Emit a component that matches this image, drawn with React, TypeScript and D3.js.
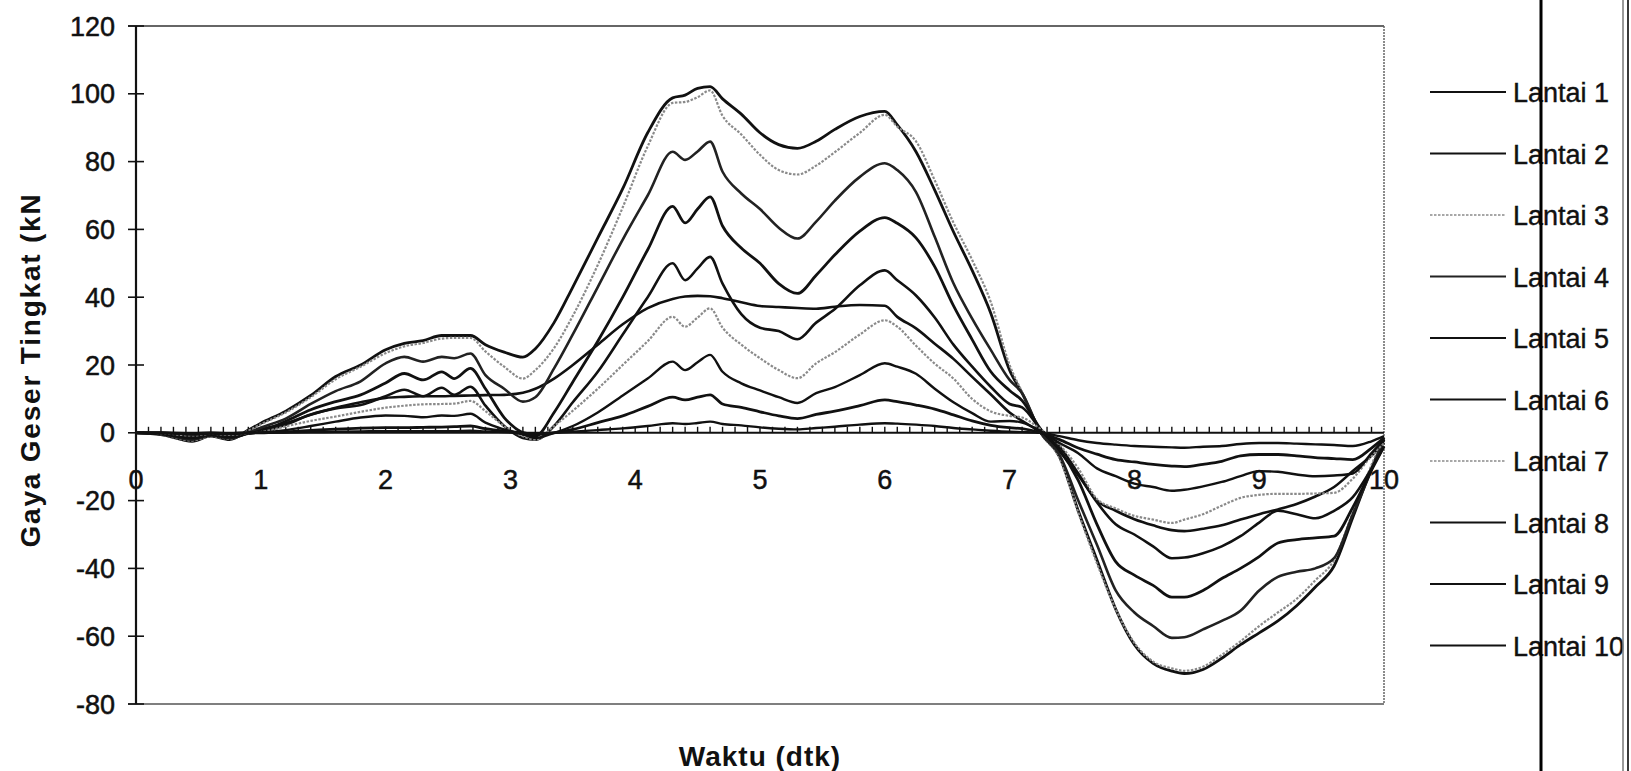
import React from 'react';
import * as d3 from 'd3';

// time axis (dtk)
const TIME = [0, 0.2, 0.45, 0.6, 0.75, 0.9, 1.0, 1.2, 1.4, 1.6, 1.8, 2.0, 2.15, 2.3, 2.45, 2.55, 2.68, 2.8, 2.95,
  3.1, 3.2, 3.35, 3.5, 3.7, 3.9, 4.1, 4.3, 4.4, 4.5, 4.6, 4.7, 4.85, 5.0, 5.15, 5.3, 5.45, 5.6, 5.8,
  6.0, 6.1, 6.25, 6.4, 6.55, 6.7, 6.85, 7.0, 7.1, 7.25, 7.4, 7.55, 7.7, 7.85, 8.0, 8.15, 8.3, 8.4, 8.55,
  8.7, 8.85, 9.0, 9.15, 9.3, 9.45, 9.6, 9.75, 9.9, 10];

const LANTAI_1 = [0, -0.1, -0.4, -0.3, -0.4, 0, 1, 2.8, 5.3, 7.4, 9, 10.3, 10.6, 10.8, 10.8, 10.9, 11, 11.1, 11.2,
  11.8, 13, 16, 20, 26, 32, 36.8, 39.5, 40.2, 40.4, 40.3, 39.7, 38.5, 37.4, 37.1, 36.8, 36.6, 37.2, 37.7,
  37.5, 34.2, 30.8, 26.3, 21.8, 16.5, 11.3, 6, 3.5, 0, -5.5, -12.5, -20, -23, -25.5, -27.3, -28.7, -29, -28.3,
  -27.3, -25.6, -24, -22.6, -21, -18.8, -16, -11.3, -6.7, -3];
const LANTAI_2 = [0, -0.5, -2.5, -1, -2, 0.8, 2.8, 6.4, 11, 16.6, 20, 24.5, 26.4, 27.2, 28.7, 28.7, 28.7, 26, 23.8,
  22.3, 24.8, 32.5, 43, 57.5, 72, 88.5, 98.8, 99.6, 101.6, 102.1, 98.5, 94, 88.5, 85, 83.9, 86, 89.5, 93.3,
  94.8, 90.8, 82.9, 71.6, 59.3, 47.9, 35.2, 18.5, 11.7, 0, -7, -23, -37.5, -52, -62.5, -68, -70.3, -71, -69.8,
  -66.5, -62.5, -59, -55.5, -51, -45.5, -39.3, -25, -10.5, -2];
const LANTAI_3 = [0, -0.5, -2.3, -1, -1.8, 0.6, 2.5, 6, 10.5, 15.8, 19.5, 23.5, 25.5, 26.5, 27.8, 28, 28, 24, 19.5,
  16, 18.5, 25, 34.5, 49.5, 66.5, 84.5, 97.3, 97.6, 99, 101, 93.5, 88, 82, 77.5, 76.2, 78.8, 82.8, 88.5,
  93.8, 90.3, 86, 74.5, 62, 51, 38.5, 20, 12, 0, -7.5, -23.5, -38.5, -52, -62, -67.5, -69.5, -70.2, -69,
  -65.5, -61.5, -57, -53, -49, -43.5, -37.5, -23.5, -9.5, -1];
const LANTAI_4 = [0, -0.4, -2, -0.8, -1.6, 0, 1.5, 4.2, 8.5, 12.3, 15.2, 20.5, 22.4, 21, 22.4, 22, 23.4, 17, 13,
  9.2, 10.5, 19, 29, 43, 57, 70, 82.9, 80.5, 83, 85.9, 77, 70.6, 66, 60.5, 57.3, 62.3, 68.5, 75.5,
  79.5, 77.5, 71, 57.8, 44.1, 33.7, 24.4, 15.6, 11.7, 0, -6.5, -20, -33, -46.5, -53, -57, -60.5, -60.3, -58,
  -55.5, -52.5, -46.5, -42.5, -41, -40, -37, -24, -11, -1.5];
const LANTAI_5 = [0, -0.3, -1.6, -0.6, -1.3, -0.2, 0.5, 3.4, 6.8, 9.2, 11.2, 14.7, 17.5, 15.6, 18, 16, 19, 13, 4.5,
  0, -1, 6, 15, 27, 40, 54, 66.8, 61.9, 66, 69.6, 61, 54.5, 50, 44, 41.1, 46.5, 52.5, 59.5,
  63.5, 61.8, 57.5, 49, 37.5, 27.5, 18, 12.5, 9.5, 1, -5, -14, -27, -38, -42, -45, -48.5, -48.5, -46.5,
  -43, -40, -36.5, -32.5, -31.5, -31, -30.5, -22, -11, -4];
const LANTAI_6 = [0, -0.2, -1.2, -0.5, -1, -0.3, 0.3, 2.4, 5.4, 7.2, 8.2, 10.8, 12.7, 10.8, 13.3, 11.2, 13.6, 8, 2,
  -1.5, -2, 2, 9, 18, 29, 40, 50, 45, 48.5, 51.9, 44, 35, 31, 30, 27.6, 32.5, 36.5, 43.5,
  47.9, 45, 40.5, 34, 26, 19.5, 13.5, 8.5, 7.5, 1, -4, -12, -20.5, -27, -30, -33.5, -37, -36.8, -35.5,
  -33.5, -30.5, -26.5, -23, -24, -25.2, -23, -19, -10.5, -4];
const LANTAI_7 = [0, -0.1, -0.8, -0.3, -0.6, -0.1, 0.2, 1.9, 3.5, 4.8, 6.2, 7.4, 8, 8.4, 8.5, 8.6, 9.4, 6.4, 2,
  -1, -2, 2, 6.5, 13, 20, 27, 34.2, 31.3, 34, 36.7, 31, 26, 22, 18.5, 16.1, 20.5, 23.8, 29,
  33.2, 31.3, 25.7, 20.4, 16, 10, 6.3, 5, 4.5, 1, -3.5, -10.5, -19.5, -22.3, -24.5, -25.6, -26.6, -25.6, -24,
  -21.5, -19.2, -18.3, -18, -18, -17.9, -17.7, -13.5, -6.8, -3];
const LANTAI_8 = [0, 0, -0.5, -0.2, -0.4, 0, 0.1, 0.8, 2, 3.3, 4.5, 5.1, 5, 4.6, 5.1, 5, 5.6, 3, 1,
  -0.5, -1.5, 0, 2, 6, 11, 16, 21, 18.5, 20.8, 23, 18, 14.6, 12.5, 10.5, 8.8, 11.7, 13.5, 17,
  20.5, 19.5, 17.4, 13, 9, 5.8, 3.3, 3.5, 3, 0.5, -3, -6, -10.5, -12.8, -15, -16, -17.1, -16.8, -15.8,
  -14.5, -12.8, -11.3, -11.5, -12.3, -12.8, -12.6, -12, -6, -2];
const LANTAI_9 = [0, 0, -0.3, -0.1, -0.2, 0, 0, 0.3, 0.7, 1.1, 1.4, 1.5, 1.5, 1.6, 1.7, 1.8, 2, 1.2, 0.5,
  0, -0.5, 0, 1, 3, 5, 7.8, 10.5, 9.7, 10.5, 11.2, 8.5, 7.5, 6.2, 5, 4.2, 5.4, 6.4, 8,
  9.7, 9.2, 8.2, 7, 5.3, 3.5, 2.2, 1.5, 1.2, 0, -2, -4.5, -6.3, -7.9, -8.6, -9.3, -9.8, -10, -9.3,
  -8.4, -6.8, -6.4, -6.4, -6.8, -7.3, -7.6, -7.9, -4.5, -1.5];
const LANTAI_10 = [0, 0, -0.1, 0, -0.1, 0, 0, 0.1, 0.2, 0.3, 0.4, 0.5, 0.5, 0.5, 0.5, 0.5, 0.6, 0.4, 0.2,
  0, -0.2, 0, 0.3, 0.8, 1.3, 2, 2.8, 2.6, 2.9, 3.3, 2.6, 2.2, 1.6, 1.2, 1, 1.4, 1.8, 2.4,
  2.8, 2.7, 2.4, 2, 1.4, 1, 0.6, 0.3, 0.2, 0, -1, -2.2, -3, -3.5, -3.9, -4.1, -4.3, -4.4, -4.1,
  -3.9, -3.3, -3, -3, -3.2, -3.4, -3.6, -3.9, -2.5, -1];

const SERIES_NAMES = ['Lantai 1', 'Lantai 2', 'Lantai 3', 'Lantai 4', 'Lantai 5',
  'Lantai 6', 'Lantai 7', 'Lantai 8', 'Lantai 9', 'Lantai 10'];
const SERIES_VALUES = [LANTAI_1, LANTAI_2, LANTAI_3, LANTAI_4, LANTAI_5,
  LANTAI_6, LANTAI_7, LANTAI_8, LANTAI_9, LANTAI_10];

const Y_TICKS = [-80, -60, -40, -20, 0, 20, 40, 60, 80, 100, 120];
const X_TICKS = [0, 1, 2, 3, 4, 5, 6, 7, 8, 9, 10];

// stroke styles per floor (scan look: black, grey dotted)
const STYLES = [
  { stroke: '#111', width: 2.6, dash: '' },
  { stroke: '#111', width: 2.8, dash: '' },
  { stroke: '#8a8a8a', width: 2.2, dash: '2.5,1.5' },
  { stroke: '#222', width: 2.6, dash: '' },
  { stroke: '#111', width: 2.8, dash: '' },
  { stroke: '#111', width: 2.6, dash: '' },
  { stroke: '#8a8a8a', width: 2.2, dash: '2.5,1.5' },
  { stroke: '#111', width: 2.4, dash: '' },
  { stroke: '#111', width: 2.8, dash: '' },
  { stroke: '#111', width: 2.4, dash: '' },
];

const W = 1631;
const H = 771;
const PLOT = { left: 136, right: 1384, top: 26, bottom: 704 };
const FONT = "Arial, 'Liberation Sans', Helvetica, sans-serif";

const App: React.FC = () => {
  const x = d3.scaleLinear().domain([0, 10]).range([PLOT.left, PLOT.right]);
  const y = d3.scaleLinear().domain([-80, 120]).range([PLOT.bottom, PLOT.top]);
  const y0 = y(0);

  const line = d3.line<number>()
    .x((_, i) => x(TIME[i]))
    .y(d => y(d))
    .curve(d3.curveMonotoneX);

  const minorTicks = d3.range(1, 100).map(i => i / 10);

  return (
    <svg width={W} height={H} style={{ position: 'absolute', left: 0, top: 0, background: '#fff' }}
      fontFamily={FONT}>
      <rect x={0} y={0} width={W} height={H} fill="#fff" />

      {/* plot frame */}
      <line x1={128} x2={PLOT.right} y1={PLOT.top} y2={PLOT.top} stroke="#333" strokeWidth={1.5} />
      <line x1={128} x2={PLOT.right} y1={PLOT.bottom} y2={PLOT.bottom} stroke="#555" strokeWidth={1.5} />
      <line x1={PLOT.right} x2={PLOT.right} y1={PLOT.top} y2={PLOT.bottom} stroke="#666"
        strokeWidth={1.5} strokeDasharray="2,1" />

      {/* y axis */}
      <line x1={PLOT.left} x2={PLOT.left} y1={PLOT.top} y2={PLOT.bottom} stroke="#111" strokeWidth={2.2} />
      {Y_TICKS.map(t => (
        <g key={t}>
          <line x1={PLOT.left - 8} x2={PLOT.left + 8} y1={y(t)} y2={y(t)} stroke="#111" strokeWidth={1.6} />
          <text x={115} y={y(t) + 9.5} fontSize={27} textAnchor="end" fill="#111"
            stroke="#111" strokeWidth={0.5}>{t}</text>
        </g>
      ))}

      {/* x axis along zero */}
      <line x1={PLOT.left} x2={PLOT.right} y1={y0} y2={y0} stroke="#111" strokeWidth={2} />
      {minorTicks.map(t => (
        <line key={t} x1={x(t)} x2={x(t)} y1={y0 - 6} y2={y0} stroke="#111" strokeWidth={1.4} />
      ))}
      {X_TICKS.map(t => (
        <text key={t} x={x(t)} y={y0 + 56} fontSize={27} textAnchor="middle" fill="#111"
          stroke="#111" strokeWidth={0.5}>{t}</text>
      ))}

      {/* series */}
      {SERIES_VALUES.map((vals, i) => (
        <path key={SERIES_NAMES[i]} d={line(vals) || ''} fill="none" stroke={STYLES[i].stroke}
          strokeWidth={STYLES[i].width} strokeDasharray={STYLES[i].dash || undefined}
          strokeLinejoin="round" />
      ))}

      {/* axis titles */}
      <text transform="translate(40,370) rotate(-90)" fontSize={28} fontWeight="bold" textAnchor="middle"
        letterSpacing={1.8} fill="#111">Gaya Geser Tingkat (kN</text>
      <text x={760} y={766} fontSize={28} fontWeight="bold" textAnchor="middle" letterSpacing={1}
        fill="#111">Waktu (dtk)</text>

      {/* legend */}
      {SERIES_NAMES.map((name, i) => {
        const cy = 92 + i * 61.5;
        const s = STYLES[i];
        return (
          <g key={name}>
            <line x1={1430} x2={1506} y1={cy} y2={cy} stroke={s.stroke}
              strokeWidth={s.dash ? 1.6 : 2.2} strokeDasharray={s.dash || undefined} />
            <text x={1513} y={cy + 10} fontSize={27} fill="#111" stroke="#111"
              strokeWidth={0.4}>{name}</text>
          </g>
        );
      })}

      {/* scanned page edges */}
      <line x1={1541} x2={1541} y1={0} y2={H} stroke="#000" strokeWidth={3} />
      <line x1={1623} x2={1623} y1={0} y2={H} stroke="#777" strokeWidth={1.5} />
      <line x1={1628} x2={1628} y1={0} y2={H} stroke="#222" strokeWidth={1.8} />
    </svg>
  );
};

export default App;
